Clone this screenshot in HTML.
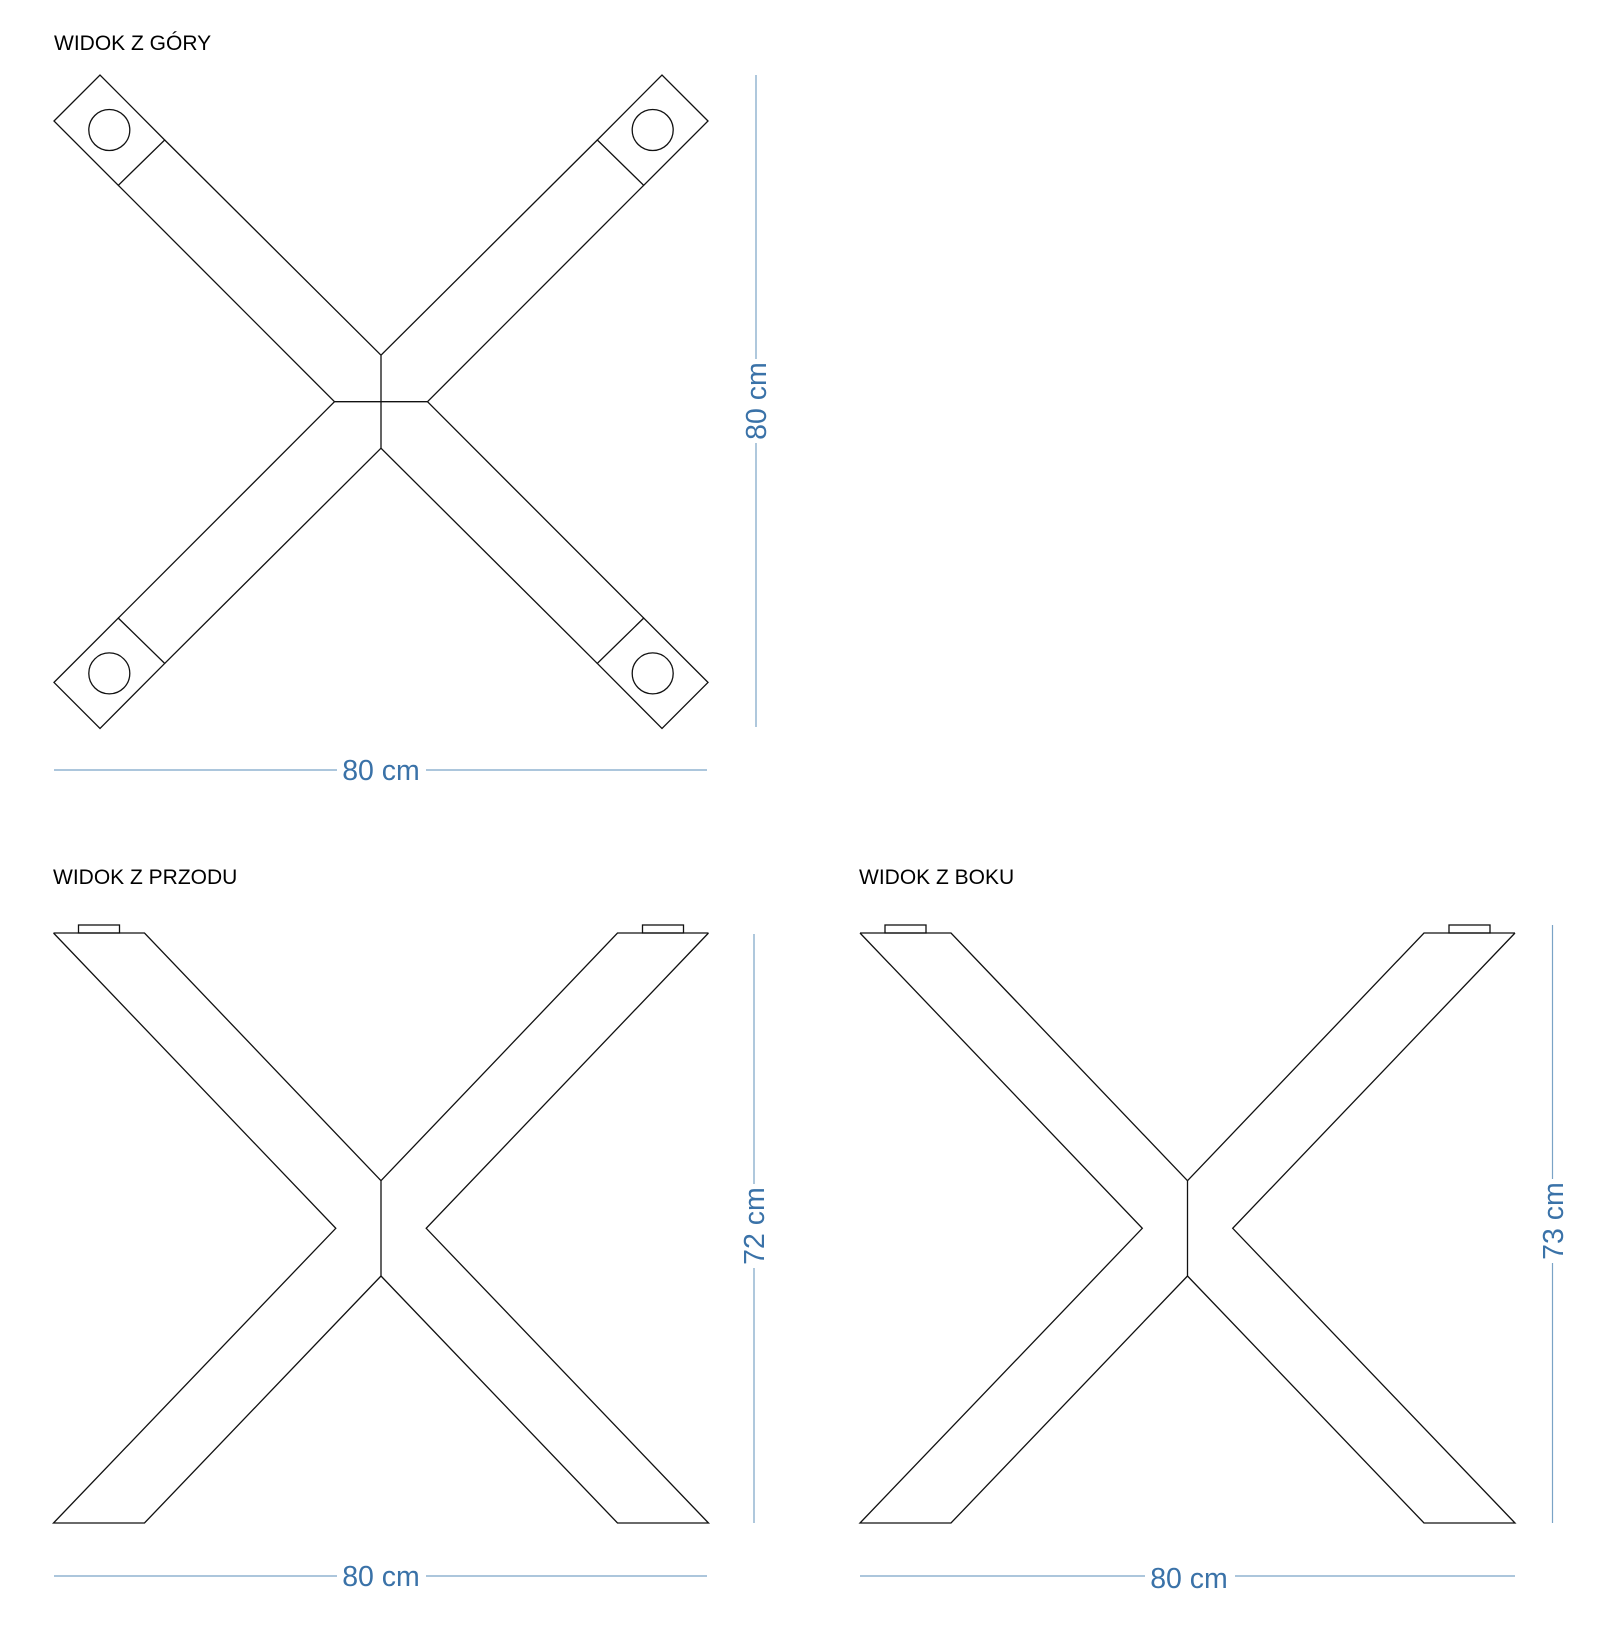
<!DOCTYPE html>
<html><head><meta charset="utf-8"><style>
html,body{margin:0;padding:0;background:#fff;}
svg{display:block;}
text{font-family:"Liberation Sans",sans-serif;}
</style></head><body>
<svg width="1600" height="1633" viewBox="0 0 1600 1633" xmlns="http://www.w3.org/2000/svg">
<g fill="none" stroke="#111" stroke-width="1.3">
  <!-- top view -->
  <g transform="translate(381,401.7)">
    <g id="arm">
      <polygon points="-327,-280.7 -281,-326.7 -216.3,-261.7 -262.7,-216.4"/>
      <line x1="-216.3" y1="-261.7" x2="0" y2="-46.5"/>
      <line x1="-262.7" y1="-216.4" x2="-46.5" y2="0"/>
      <circle cx="-271.7" cy="-271.7" r="20.5"/>
    </g>
    <use href="#arm" transform="scale(-1,1)"/>
    <use href="#arm" transform="scale(1,-1)"/>
    <use href="#arm" transform="scale(-1,-1)"/>
    <line x1="0" y1="-46.5" x2="0" y2="46.5"/>
    <line x1="-46.5" y1="0" x2="46.5" y2="0"/>
  </g>
  <!-- front view, center 381 -->
  <g id="xleg">
    <g id="half">
      <polyline points="53.5,933 144.5,933 381,1180.7"/>
      <polyline points="53.5,933 335.8,1228.3 53.5,1523 144.5,1523 381,1276"/>
      <rect x="78.5" y="925" width="41" height="8"/>
    </g>
    <use href="#half" transform="translate(762,0) scale(-1,1)"/>
    <line x1="381" y1="1180.7" x2="381" y2="1276"/>
  </g>
  <use href="#xleg" transform="translate(806.5,0)"/>
</g>
<g fill="#000" font-size="21">
  <text x="54" y="50">WIDOK Z GÓRY</text>
  <text x="53" y="884">WIDOK Z PRZODU</text>
  <text x="859" y="884">WIDOK Z BOKU</text>
</g>
<g stroke="#7aa3c6" stroke-width="1.2">
  <line x1="756" y1="75" x2="756" y2="359"/><line x1="756" y1="443" x2="756" y2="727"/>
  <line x1="54" y1="770" x2="337" y2="770"/><line x1="426" y1="770" x2="707" y2="770"/>
  <line x1="754" y1="934" x2="754" y2="1184"/><line x1="754" y1="1268" x2="754" y2="1523"/>
  <line x1="54" y1="1576" x2="337" y2="1576"/><line x1="426" y1="1576" x2="707" y2="1576"/>
  <line x1="1552.5" y1="925" x2="1552.5" y2="1179"/><line x1="1552.5" y1="1263" x2="1552.5" y2="1523"/>
  <line x1="860" y1="1576" x2="1145" y2="1576"/><line x1="1235" y1="1576" x2="1515" y2="1576"/>
</g>
<g fill="#3a72a8" font-size="28.5" text-anchor="middle">
  <text x="381" y="780">80 cm</text>
  <text x="381" y="1586">80 cm</text>
  <text x="1189" y="1588">80 cm</text>
  <text transform="translate(766,401) rotate(-90)">80 cm</text>
  <text transform="translate(764,1226) rotate(-90)">72 cm</text>
  <text transform="translate(1563,1221) rotate(-90)">73 cm</text>
</g>
</svg>
</body></html>
